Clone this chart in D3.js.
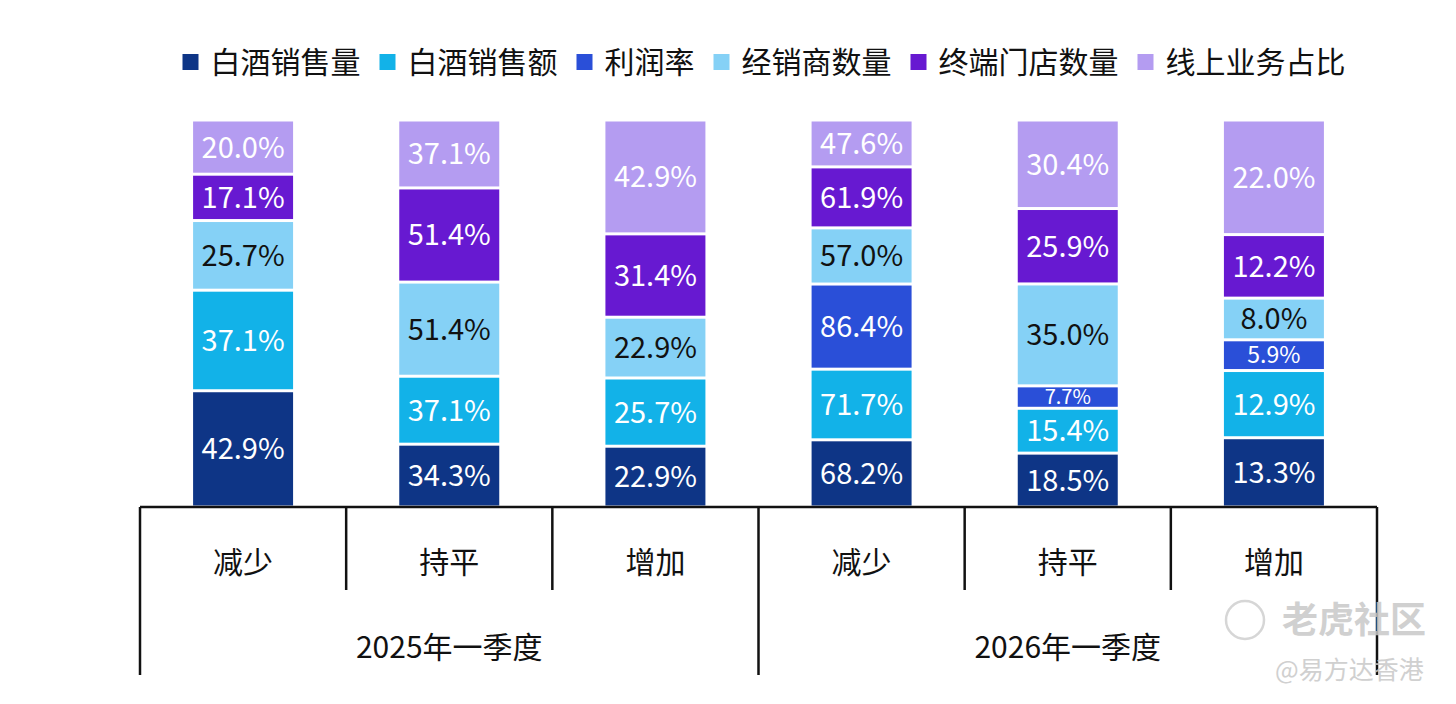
<!DOCTYPE html>
<meta charset="utf-8">
<head>
  <script src="https://d3js.org/d3.v7.min.js"></script>
  <style>
    body { margin: 0; background: #fff; }
    text { font-family: "Noto Sans CJK SC", "Noto Sans", sans-serif; }
  </style>
</head>
<body>
  <div id="chart"></div>
  <script>
    // categories (bars) and their groups
    var categories = ["减少", "持平", "增加", "减少", "持平", "增加"];
    var groups = ["2025年一季度", "2026年一季度"];
    var seriesNames = ["白酒销售量", "白酒销售额", "利润率", "经销商数量", "终端门店数量", "线上业务占比"];

    // values per series, one per bar (percent); 0 = not shown
    var salesVolume = [42.9, 34.3, 22.9, 68.2, 18.5, 13.3];
    var salesAmount = [37.1, 37.1, 25.7, 71.7, 15.4, 12.9];
    var profitRate = [0, 0, 0, 86.4, 7.7, 5.9];
    var dealers = [25.7, 51.4, 22.9, 57.0, 35.0, 8.0];
    var stores = [17.1, 51.4, 31.4, 61.9, 25.9, 12.2];
    var online = [20.0, 37.1, 42.9, 47.6, 30.4, 22.0];

    var colors = ["#0e3586", "#12b2e8", "#2a4fd8", "#85d1f6", "#6719d1", "#b49cf1"];
    var labelColors = ["#fff", "#fff", "#fff", "#111", "#fff", "#fff"];

    var W = 1456, H = 704;
    var svg = d3.select("#chart").append("svg")
      .attr("width", W).attr("height", H);

    var allSeries = [salesVolume, salesAmount, profitRate, dealers, stores, online];
    var table = categories.map(function (c, i) {
      var row = { idx: i };
      seriesNames.forEach(function (s, k) { row[s] = allSeries[k][i]; });
      return row;
    });

    // each bar is scaled to full height (100% stack)
    var stacked = d3.stack().keys(seriesNames).offset(d3.stackOffsetExpand)(table);

    var x = d3.scaleBand().domain(d3.range(categories.length)).range([140, 1377]);
    var barW = x.bandwidth() * 0.485;
    var y = d3.scaleLinear().domain([0, 1]).range([507, 120]);

    // bars
    var layer = svg.append("g").selectAll("g")
      .data(stacked).enter().append("g");

    layer.each(function (s, k) {
      var g = d3.select(this);
      s.forEach(function (d, i) {
        var v = allSeries[k][i];
        if (!v) return;
        var x0 = x(i) + (x.bandwidth() - barW) / 2;
        var y0 = y(d[1]), h = y(d[0]) - y(d[1]);
        var id = "clip" + k + "_" + i;
        g.append("clipPath").attr("id", id)
          .append("rect").attr("x", x0).attr("y", y0 + 1.5)
          .attr("width", barW).attr("height", Math.max(0, h - 3));
        g.append("rect")
          .attr("x", x0).attr("y", y0 + 1.5)
          .attr("width", barW).attr("height", Math.max(0, h - 3))
          .attr("fill", colors[k]);
        g.append("text")
          .attr("clip-path", "url(#" + id + ")")
          .attr("x", x0 + barW / 2)
          .attr("y", (y0 + y(d[0])) / 2)
          .attr("dy", "0.36em")
          .attr("text-anchor", "middle")
          .attr("font-size", h < 24 ? 20 : (h < 32 ? 23 : 29))
          .attr("fill", labelColors[k])
          .text(v.toFixed(1) + "%");
      });
    });

    // axis lines
    var axis = svg.append("g").attr("stroke", "#111").attr("stroke-width", 2.5);
    axis.append("line").attr("x1", 140).attr("x2", 1377).attr("y1", 507).attr("y2", 507);
    d3.range(categories.length + 1).forEach(function (i) {
      var xx = i < categories.length ? x(i) : x.range()[1];
      var long = (i % 3 === 0);
      axis.append("line").attr("x1", xx).attr("x2", xx)
        .attr("y1", 507).attr("y2", long ? 675 : 590);
    });

    // category labels
    svg.append("g").selectAll("text").data(categories).enter().append("text")
      .attr("x", function (d, i) { return x(i) + x.bandwidth() / 2; })
      .attr("y", 562).attr("dy", "0.36em")
      .attr("text-anchor", "middle").attr("font-size", 30).attr("fill", "#111")
      .text(function (d) { return d; });

    // group labels
    svg.append("g").selectAll("text").data(groups).enter().append("text")
      .attr("x", function (d, i) { return (x(i * 3) + (i * 3 + 3 < categories.length ? x(i * 3 + 3) : x.range()[1])) / 2; })
      .attr("y", 647).attr("dy", "0.36em")
      .attr("text-anchor", "middle").attr("font-size", 30).attr("fill", "#111")
      .text(function (d) { return d; });

    // legend
    var legend = svg.append("g");
    var items = legend.selectAll("g").data(seriesNames).enter().append("g");
    items.append("rect").attr("width", 16).attr("height", 16).attr("y", -8)
      .attr("fill", function (d, i) { return colors[i]; });
    items.append("text").attr("x", 28).attr("dy", "0.36em")
      .attr("font-size", 30).attr("fill", "#111")
      .text(function (d) { return d; });
    var gap = 19, pos = 0, offs = [];
    items.each(function () {
      offs.push(pos);
      pos += 28 + this.querySelector("text").getComputedTextLength() + gap;
    });
    var total = pos - gap, start = 764 - total / 2;
    items.attr("transform", function (d, i) { return "translate(" + (start + offs[i]) + ",62)"; });

    // watermark
    var wm = svg.append("g").attr("fill", "#c8c8c8").attr("opacity", 0.85);
    wm.append("circle").attr("cx", 1245).attr("cy", 620).attr("r", 19)
      .attr("fill", "none").attr("stroke", "#cfcfcf").attr("stroke-width", 2.5);
    wm.append("text").attr("x", 1282).attr("y", 620).attr("dy", "0.36em")
      .attr("font-size", 36).attr("font-weight", "bold").text("老虎社区");
    wm.append("text").attr("x", 1275).attr("y", 670).attr("dy", "0.36em")
      .attr("font-size", 25).text("@易方达香港");
  </script>
</body>
